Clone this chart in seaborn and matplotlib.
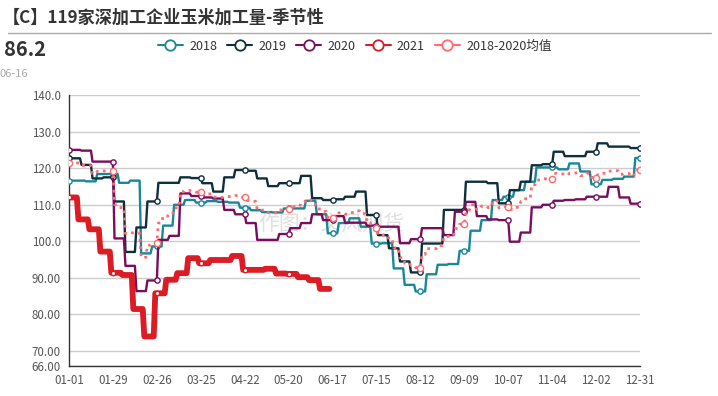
import numpy as np
import pandas as pd
import seaborn as sns
import matplotlib
matplotlib.use("Agg")
import matplotlib.pyplot as plt
from matplotlib.lines import Line2D

# ── Données : valeurs hebdomadaires ─────────────────────────────────────
V_2018 = [116.6, 116.6, 116.4, 118.4, 118.4, 116.0, 116.6, 96.7, 98.6, 104.3,
          110.0, 111.3, 110.6, 111.0, 110.8, 110.6, 109.2, 108.5, 108.0, 107.9,
          109.0, 109.0, 111.1, 107.4, 102.2, 105.0, 106.3, 104.0, 99.4, 99.5,
          92.6, 88.1, 86.3, 91.0, 93.6, 93.8, 97.4, 102.9, 105.8, 111.3,
          112.2, 114.0, 116.3, 120.2, 120.2, 119.7, 121.3, 119.1, 115.6, 116.8,
          117.1, 117.7, 122.8]
V_2019 = [122.7, 120.9, 117.2, 117.5, 110.9, 97.1, 103.8, 110.9, 116.0, 116.0,
          117.5, 117.3, 115.9, 113.6, 117.5, 119.5, 119.3, 117.2, 115.1, 115.9,
          115.9, 117.9, 111.8, 111.3, 111.5, 112.2, 113.6, 107.2, 101.7, 98.1,
          94.5, 91.5, 99.4, 99.4, 108.6, 108.6, 116.3, 116.3, 115.9, 110.4,
          114.0, 116.3, 120.8, 121.1, 124.5, 123.3, 123.3, 124.5, 126.8, 125.9,
          125.9, 125.5]
V_2020 = [125.0, 124.8, 121.8, 121.8, 100.8, 93.3, 86.4, 89.3, 100.4, 101.5,
          113.1, 112.4, 112.0, 111.7, 108.6, 107.4, 105.0, 100.4, 100.4, 102.0,
          103.6, 105.0, 107.4, 105.8, 106.9, 105.1, 105.1, 104.3, 104.0, 104.0,
          99.5, 100.6, 103.6, 103.6, 101.7, 108.1, 110.8, 106.9, 106.0, 105.8,
          99.9, 102.4, 109.3, 110.0, 111.1, 111.3, 111.5, 112.2, 112.2, 114.9,
          112.0, 110.3]
V_2021 = [112.0, 106.0, 103.3, 97.2, 91.4, 90.8, 81.5, 74.0, 85.8, 89.5,
          91.3, 95.4, 94.0, 94.9, 94.9, 96.0, 92.2, 92.2, 92.5, 91.2,
          91.1, 90.2, 89.4, 87.0]

# jour (depuis le 01-01) de la première mise à jour hebdo, et dernier jour
FIRST_UPDATE = {"2018": 4, "2019": 8, "2020": 8, "2021": 6}
LAST_DAY = {"2018": 364, "2019": 364, "2020": 364, "2021": 166}

X_TICKS = list(range(0, 365, 28))
X_LABELS = ["01-01", "01-29", "02-26", "03-25", "04-22", "05-20", "06-17",
            "07-15", "08-12", "09-09", "10-07", "11-04", "12-02", "12-31"]
Y_TICKS = [66, 70, 80, 90, 100, 110, 120, 130, 140]
Y_LABELS = ["66.00", "70.00", "80.00", "90.00", "100.0", "110.0", "120.0",
            "130.0", "140.0"]

TITLE = "【C】119家深加工企业玉米加工量-季节性"
LATEST_VALUE = "86.2"
LATEST_DATE = "06-16"
AVG_NAME = "2018-2020均值"

COLORS = {"2018": "#18879a", "2019": "#0e2f3c", "2020": "#7b0d5e",
          "2021": "#dc1c24", AVG_NAME: "#ff6b6e"}


def daily(values, first, last):
    days = [0] + list(range(first, first + 7 * (len(values) - 1), 7))
    s = pd.Series(values, index=days, dtype=float)
    return s.reindex(range(last + 1)).ffill()


series = {
    "2018": daily(V_2018, FIRST_UPDATE["2018"], LAST_DAY["2018"]),
    "2019": daily(V_2019, FIRST_UPDATE["2019"], LAST_DAY["2019"]),
    "2020": daily(V_2020, FIRST_UPDATE["2020"], LAST_DAY["2020"]),
    "2021": daily(V_2021, FIRST_UPDATE["2021"], LAST_DAY["2021"]),
}
series[AVG_NAME] = pd.concat([series["2018"], series["2019"], series["2020"]],
                             axis=1).mean(axis=1)

# ── Style ────────────────────────────────────────────────────────────────
sns.set_style("white")
plt.rcParams["font.family"] = ["Noto Sans CJK SC", "DejaVu Sans"]

fig = plt.figure(figsize=(7.18, 3.96), dpi=100)
ax = fig.add_axes([0.0961, 0.0765, 0.7953, 0.6835])

styles = {
    "2018": dict(linewidth=1.7, linestyle="-", ms=3.8),
    "2019": dict(linewidth=1.7, linestyle="-", ms=3.8),
    "2020": dict(linewidth=1.7, linestyle="-", ms=3.8),
    "2021": dict(linewidth=4.2, linestyle="-", ms=3.2),
    AVG_NAME: dict(linewidth=2.0, linestyle=(0, (1, 1.6)), ms=4.5),
}

for name, s in series.items():
    st = styles[name]
    marks = [d for d in X_TICKS if d < len(s)]
    sns.lineplot(x=s.index, y=s.values, ax=ax, color=COLORS[name],
                 linewidth=st["linewidth"], linestyle=st["linestyle"],
                 marker="o", markevery=marks, markersize=st["ms"],
                 markerfacecolor="white", markeredgecolor=COLORS[name],
                 markeredgewidth=1.0, legend=False, zorder=3)

# ── Axes ─────────────────────────────────────────────────────────────────
ax.set_xlim(0, 364)
ax.set_ylim(66, 140)
ax.set_xticks(X_TICKS)
ax.set_xticklabels(X_LABELS)
ax.set_yticks(Y_TICKS)
ax.set_yticklabels(Y_LABELS)
ax.set_xlabel("")
ax.set_ylabel("")
ax.yaxis.grid(True, color="#cccccc", linewidth=1.0)
ax.xaxis.grid(False)
for side in ["top", "right"]:
    ax.spines[side].set_visible(False)
for side in ["left", "bottom"]:
    ax.spines[side].set_color("#333333")
    ax.spines[side].set_linewidth(1.0)
ax.tick_params(axis="both", direction="out", length=3, width=1,
               color="#333333", labelcolor="#555555", labelsize=8.3)
ax.tick_params(axis="x", pad=3)
ax.tick_params(axis="y", pad=3)

# filigrane
ax.text(0.359, 0.432, "作图：文风期货", transform=fig.transFigure,
        fontsize=15, color="#cccccc", alpha=0.6, ha="left", va="center",
        zorder=1)

# ── Entête ───────────────────────────────────────────────────────────────
fig.text(0.004, 0.955, TITLE, fontsize=12.3, fontweight="bold",
         color="#333333", ha="left", va="center")
fig.add_artist(Line2D([8 / 718, 711 / 718], [0.916, 0.916],
                      color="#aaaaaa", linewidth=1.0))
fig.text(0.005, 0.876, LATEST_VALUE, fontsize=14.5, fontweight="bold",
         color="#333333", ha="left", va="center")
fig.text(0.0, 0.813, LATEST_DATE, fontsize=8, color="#aaaaaa",
         ha="left", va="center")

handles = [Line2D([], [], color=COLORS[n], linewidth=1.5, marker="o",
                  markersize=7.5, markerfacecolor="white",
                  markeredgecolor=COLORS[n], markeredgewidth=1.3)
           for n in series]
leg = fig.legend(handles, list(series.keys()), loc="center",
                 bbox_to_anchor=(0.494, 0.883), ncol=5, frameon=False,
                 fontsize=9, handlelength=2.0, handletextpad=0.5,
                 columnspacing=0.8)
for t in leg.get_texts():
    t.set_color("#333333")

fig.savefig("out.png", dpi=100)
